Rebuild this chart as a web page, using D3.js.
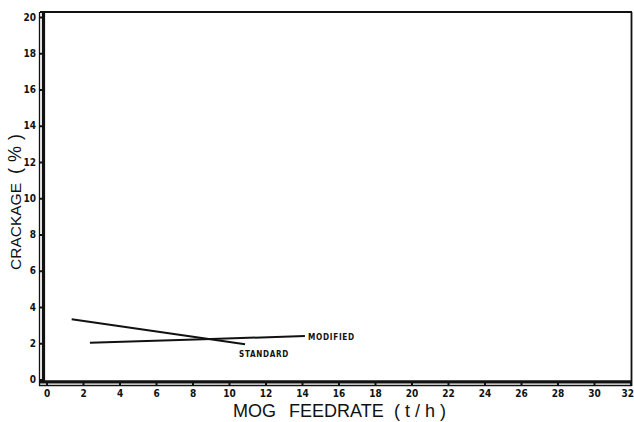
<!DOCTYPE html>
<html><head><meta charset="utf-8">
<script src="https://cdn.jsdelivr.net/npm/d3@7"></script>
<style>
body{margin:0;background:#fff;}
svg{display:block;}
.tick text{font-family:"DejaVu Sans Condensed","DejaVu Sans",sans-serif;font-stretch:condensed;font-weight:bold;font-size:10px;fill:#111;}
</style></head><body>
<svg id="c" width="634" height="422"></svg>
<script>
const xTicks = [0,2,4,6,8,10,12,14,16,18,20,22,24,26,28,30,32];
const yTicks = [0,2,4,6,8,10,12,14,16,18,20];
const standardX = [1.38, 10.88];
const standardY = [3.33, 1.94];
const modifiedX = [2.38, 8.6, 14.16];
const modifiedY = [2.03, 2.22, 2.40];
const seriesLabels = ["STANDARD","MODIFIED"];
const xTitleParts = ["MOG ", "FEEDRATE ", "( t / h )"];
const yTitleParts = ["CRACKAGE ", "(%)"];

const svg = d3.select("#c");
const x = d3.scaleLinear().domain([0,32]).range([46.5,630.5]);
const y = d3.scaleLinear().domain([0,20]).range([379.5,17]);
const ink = "#111";

// frame
svg.append("line").attr("x1",40).attr("x2",632).attr("y1",12).attr("y2",12).attr("stroke",ink).attr("stroke-width",1.8);
svg.append("line").attr("x1",631.5).attr("x2",631.5).attr("y1",12).attr("y2",386).attr("stroke",ink).attr("stroke-width",1.8);
svg.append("line").attr("x1",39.5).attr("x2",39.5).attr("y1",12).attr("y2",386).attr("stroke",ink).attr("stroke-width",1.3);
svg.append("line").attr("x1",43.5).attr("x2",43.5).attr("y1",12).attr("y2",383).attr("stroke",ink).attr("stroke-width",3.2);
svg.append("line").attr("x1",39).attr("x2",632).attr("y1",381.8).attr("y2",381.8).attr("stroke",ink).attr("stroke-width",3.2);
svg.append("line").attr("x1",39).attr("x2",632).attr("y1",385.5).attr("y2",385.5).attr("stroke",ink).attr("stroke-width",1.3);

// x axis
const gx = svg.append("g").attr("transform","translate(0,383)")
  .call(d3.axisBottom(x).tickValues(xTicks).tickSize(3).tickPadding(4).tickFormat(d3.format("d")));
gx.select(".domain").remove();
gx.selectAll(".tick line").attr("stroke",ink).attr("stroke-width",2);
gx.selectAll(".tick text").filter(d=>d===32).attr("text-anchor","end").attr("dx","3");

// y axis
const gy = svg.append("g").attr("transform","translate(42,0)")
  .call(d3.axisLeft(y).tickValues(yTicks).tickSize(3).tickPadding(3).tickFormat(d3.format("d")));
gy.select(".domain").remove();
gy.selectAll(".tick line").attr("stroke",ink).attr("stroke-width",2);

// series
const line = d3.line().x(d=>x(d[0])).y(d=>y(d[1]));
const std = standardX.map((v,i)=>[v,standardY[i]]);
const mod = modifiedX.map((v,i)=>[v,modifiedY[i]]);
svg.append("path").attr("d",line(std)).attr("fill","none").attr("stroke",ink).attr("stroke-width",2);
svg.append("path").attr("d",line(mod)).attr("fill","none").attr("stroke",ink).attr("stroke-width",2);

const lblStyle = s => s.attr("font-family","'DejaVu Sans Condensed','DejaVu Sans',sans-serif")
  .attr("font-stretch","condensed").attr("font-weight","bold").attr("font-size","9px").attr("fill",ink).attr("letter-spacing","0.8px");
svg.append("text").text(seriesLabels[0]).attr("x",x(standardX[1])-6).attr("y",y(standardY[1])+13)
  .attr("textLength",50).attr("lengthAdjust","spacingAndGlyphs").call(lblStyle);
svg.append("text").text(seriesLabels[1]).attr("x",x(modifiedX[2])+3).attr("y",y(modifiedY[2])+3.5)
  .attr("textLength",47).attr("lengthAdjust","spacingAndGlyphs").call(lblStyle);

// titles
const xt = svg.append("text").attr("y",417)
  .attr("font-family","'Liberation Sans',Arial,sans-serif").attr("font-size","18px").attr("fill",ink);
const xPos = [233, 289, 394];
xTitleParts.forEach((t,i)=>xt.append("tspan").attr("x",xPos[i]).text(t));

const yt = svg.append("text").attr("transform","translate(21,270) rotate(-90)")
  .attr("font-family","'Liberation Sans',Arial,sans-serif").attr("fill",ink);
yt.append("tspan").attr("x",0).attr("font-size","15.5px").text(yTitleParts[0]);
yt.append("tspan").attr("x",96).attr("font-size","18px").attr("letter-spacing","6px").text(yTitleParts[1]);
</script></body></html>
